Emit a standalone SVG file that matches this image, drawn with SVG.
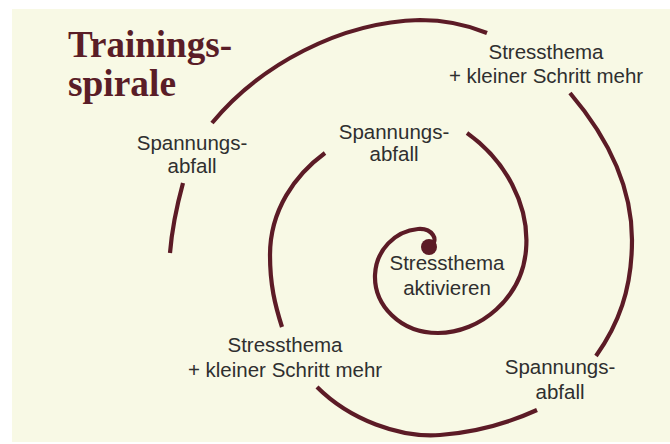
<svg xmlns="http://www.w3.org/2000/svg" width="670" height="444" viewBox="0 0 670 444">
  <style>
    .bg { fill: #f8f9e5; }
    .title { font-family: "Liberation Serif", "DejaVu Serif", serif; font-weight: bold; font-size: 37px; fill: #5a1d27; }
    .lbl { font-family: "Liberation Sans", Arial, sans-serif; font-size: 20.5px; fill: #2f2f2f; text-anchor: middle; }
    .sp { fill: none; stroke: #5c1b26; stroke-width: 4.2; stroke-linecap: butt; }
  </style>
  <rect x="0" y="0" width="670" height="444" fill="#ffffff"/>
  <rect class="bg" x="12" y="9" width="658" height="433"/>

  <g id="title">
    <text class="title" x="68" y="57" textLength="164" lengthAdjust="spacingAndGlyphs">Trainings-</text>
    <text class="title" x="68" y="96" textLength="108" lengthAdjust="spacingAndGlyphs">spirale</text>
  </g>

  <g id="connectors">
    <path class="sp" d="M 430,247 C 440,240 432,228 418,229 C 395,231 376,250 375,275 C 374,305 400,333 438,333 C 480,333 522,298 526,250 C 530,205 505,160 467,133"/>
    <path class="sp" d="M 325,153 C 295,175 270,210 270,255 C 270,285 275,305 282,327"/>
    <path class="sp" d="M 317,387 C 350,420 400,438 440,435 C 480,432 515,420 537,410"/>
    <path class="sp" d="M 570,93 C 610,140 632,190 632,240 C 632,290 618,325 596,356"/>
    <path class="sp" d="M 212,123 C 260,65 340,22 420,20 C 450,20 470,26 487,33"/>
    <path class="sp" d="M 183,183 C 177,205 172,228 170,253"/>
  </g>

  <g id="center">
    <circle cx="429" cy="247" r="8" fill="#5c1b26"/>
    <text class="lbl" x="447" y="270">Stressthema</text>
    <text class="lbl" x="447" y="295">aktivieren</text>
  </g>

  <g id="abfall-inner">
    <text class="lbl" x="394" y="139">Spannungs-</text>
    <text class="lbl" x="394" y="161">abfall</text>
  </g>

  <g id="schritt-inner">
    <text class="lbl" x="285" y="352">Stressthema</text>
    <text class="lbl" x="285" y="377">+ kleiner Schritt mehr</text>
  </g>

  <g id="abfall-bottom">
    <text class="lbl" x="560" y="374">Spannungs-</text>
    <text class="lbl" x="560" y="399">abfall</text>
  </g>

  <g id="schritt-outer">
    <text class="lbl" x="546" y="59">Stressthema</text>
    <text class="lbl" x="546" y="83">+ kleiner Schritt mehr</text>
  </g>

  <g id="abfall-outer">
    <text class="lbl" x="192" y="150">Spannungs-</text>
    <text class="lbl" x="192" y="173">abfall</text>
  </g>
</svg>
